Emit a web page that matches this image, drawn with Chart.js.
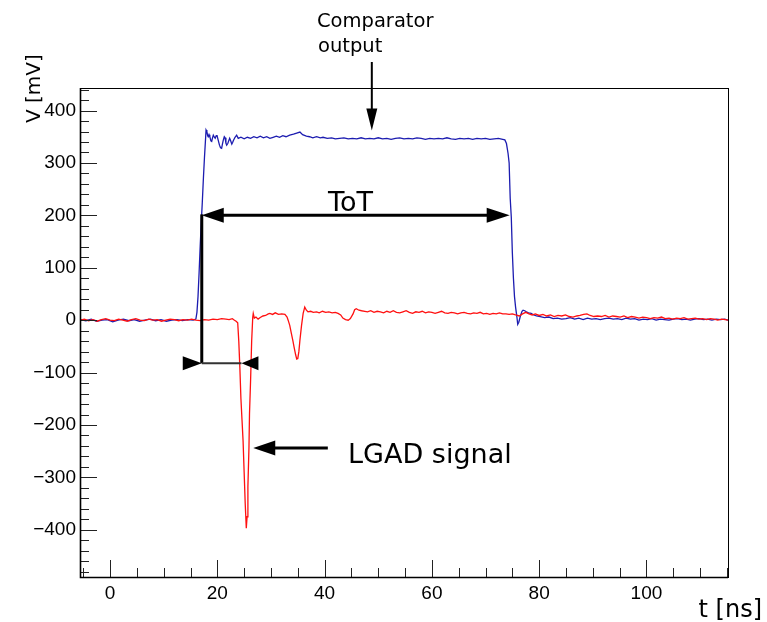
<!DOCTYPE html>
<html><head><meta charset="utf-8">
<script src="https://cdn.jsdelivr.net/npm/chart.js@4"></script>
<style>html,body{margin:0;padding:0;background:#fff}#wrap{width:767px;height:622px;position:relative}</style>
</head><body><div id="wrap"><canvas id="c" width="767" height="622"></canvas></div>
<script>
// tick labels
const xTicks = [0, 20, 40, 60, 80, 100];
const yTicks = [-400, -300, -200, -100, 0, 100, 200, 300, 400];

// Comparator output (blue), time [ns] and voltage [mV]
const blueT = [-5.5,-4.5,-3.5,-2.5,-1.5,-0.5,0.5,1.5,2.5,3.5,4.5,5.5,6.5,7.5,8.5,9.5,10.5,11.5,12.5,13.5,14.5,15.5,16.0,
16.2,16.4,16.6,16.8,17.0,17.2,17.4,17.6,17.8,17.9,
18.05,18.2,18.3,18.45,18.6,18.8,18.95,19.1,19.25,19.45,19.6,19.8,19.95,20.15,20.4,20.6,20.8,20.95,21.1,21.3,21.45,21.6,21.75,21.95,22.15,22.3,22.5,22.7,22.85,23.0,23.3,23.6,23.9,24.4,25.0,25.6,26.2,26.8,27.4,28.0,28.6,29.2,29.8,30.4,31.0,31.6,32.2,32.8,33.5,34.2,34.8,35.4,35.9,36.6,37.2,37.8,38.5,39.2,39.7,40.5,41.3,42.0,42.8,43.6,44.4,45.2,46.0,46.8,47.6,48.4,49.2,50.0,50.8,51.6,52.4,53.2,54.0,54.8,55.6,56.4,57.2,58.0,58.8,59.6,60.4,61.2,62.0,62.8,63.6,64.4,65.2,66.0,66.8,67.6,68.4,69.2,70.0,70.8,71.6,72.4,73.2,73.6,
73.9,74.2,74.4,74.6,74.8,75.0,75.2,75.4,75.6,75.85,76.0,76.2,76.5,76.8,77.0,77.3,77.6,78.0,78.5,79.0,79.5,80.2,81.0,81.8,82.6,83.4,84.2,85.0,85.8,86.6,87.4,88.2,89.0,89.8,90.6,91.4,92.2,93.0,93.8,94.6,95.4,96.2,97.0,97.8,98.6,99.4,100.2,101.0,101.8,102.6,103.4,104.2,105.0,105.8,106.6,107.4,108.2,109.0,109.8,110.6,111.4,112.2,113.0,113.8,114.6,115.2];
const blueV = [1,-1,2,-2,0,1,-3,0,2,-1,1,-2,0,2,-1,1,-2,0,1,-1,1,0,2,
15,45,90,140,185,225,270,310,345,363,
360,352,350,354,350,342,341,348,353,349,347,352,352,344,334,329,328,336,343,350,348,338,334,337,343,347,342,336,339,343,349,353,347,349,346,349,347,350,348,351,348,350,347,349,351,349,352,350,353,355,357,359,354,351,350,348,350,348,349,347,348,346,347,348,346,347,346,348,346,347,346,348,346,347,345,347,348,346,347,346,348,347,345,347,346,347,346,348,346,345,347,346,347,345,347,346,347,345,346,347,345,344,
337,318,300,232,197,128,80,45,25,6,-8,-4,8,17,19,18,16,14,13,10,8,7,5,6,3,4,2,3,5,2,4,1,4,2,3,1,3,4,2,3,1,4,2,3,0,2,1,3,0,2,1,0,2,3,1,2,0,2,3,1,2,0,2,1,2,0,1];

// LGAD signal (red), time [ns] and voltage [mV]
const redT = [-5.5,-4.8,-4.0,-3.2,-2.4,-1.6,-0.8,0.0,0.8,1.6,2.4,3.2,4.0,4.8,5.6,6.4,7.2,8.0,8.8,9.6,10.4,11.2,12.0,12.8,13.6,14.4,15.2,16.0,16.8,17.6,18.4,19.2,20.0,20.8,21.6,22.2,22.8,23.2,23.5,23.8,
24.0,24.2,24.4,24.6,24.8,25.0,25.2,25.4,25.55,25.7,25.9,26.0,26.2,26.4,26.6,26.7,26.9,27.2,27.6,28.0,28.5,29.0,29.5,29.8,30.3,30.8,31.4,32.0,32.6,33.0,33.2,33.5,33.8,34.1,34.3,34.6,34.8,35.0,35.2,35.4,35.7,36.0,36.3,36.6,36.9,37.4,37.9,38.5,39.0,39.6,40.2,40.8,41.4,42.0,42.5,43.0,43.4,43.9,44.4,44.8,45.3,45.6,45.9,46.4,46.9,47.5,48.0,48.6,49.2,49.8,50.4,51.0,51.6,52.2,52.8,53.4,54.0,54.6,55.2,55.8,56.4,57.0,57.6,58.2,58.8,59.4,60.0,60.6,61.2,61.8,62.4,63.0,63.6,64.2,64.8,65.4,66.0,66.6,67.2,67.8,68.4,69.0,69.6,70.2,70.8,71.4,72.0,72.6,73.2,73.8,74.4,75.0,75.6,76.3,76.9,77.5,78.1,78.7,79.3,80.0,80.7,81.4,82.1,82.8,83.5,84.2,84.9,85.6,86.3,87.0,87.6,88.3,88.9,89.5,90.2,90.9,91.6,92.3,93.0,93.7,94.4,95.1,95.8,96.5,97.2,97.9,98.6,99.3,100.0,100.7,101.4,102.1,102.8,103.5,104.2,104.9,105.6,106.3,107.0,107.7,108.4,109.1,109.8,110.5,111.2,111.9,112.6,113.3,114.0,114.7,115.2];
const redV = [0,2,-1,1,-2,1,3,0,-1,2,0,-2,1,3,0,-1,2,0,1,-2,0,2,1,-1,1,0,2,0,-1,1,0,2,1,3,2,1,3,0,-2,-5,
-40,-90,-150,-190,-230,-290,-350,-397,-375,-318,-242,-178,-115,-40,5,13,4,6,2,5,8,9,12,13,11,14,11,12,11,6,0,-10,-25,-40,-51,-66,-74,-73,-60,-38,-10,13,25,19,16,17,15,16,14,17,15,16,14,15,13,10,4,1,0,3,12,20,22,19,18,17,16,18,15,17,16,14,17,15,18,15,14,16,18,15,13,16,15,17,14,16,15,13,15,17,14,13,15,14,12,14,15,13,12,14,13,15,12,13,11,13,12,14,12,12,11,12,10,8,12,15,12,10,12,9,11,8,10,7,9,8,10,7,6,8,9,11,12,9,7,8,7,9,6,8,7,6,8,5,7,6,4,6,5,3,5,4,6,3,4,2,4,3,5,2,3,4,2,3,1,3,2,0,2,1,0];

const X_MIN = -5.6, X_MAX = 115.2, Y_MIN = -490, Y_MAX = 443;

const toXY = (T, V) => T.map((t, i) => ({x: t, y: V[i]}));

function arrowHead(ctx, tx, ty, dx, dy, len, half) {
  const bx = tx - dx * len, by = ty - dy * len;
  const px = -dy, py = dx;
  ctx.beginPath();
  ctx.moveTo(tx, ty);
  ctx.lineTo(bx + px * half, by + py * half);
  ctx.lineTo(bx - px * half, by - py * half);
  ctx.closePath();
  ctx.fill();
}

const rootPlugin = {
  id: 'rootStyle',
  beforeDraw(chart) {
    const ctx = chart.ctx;
    ctx.save();
    ctx.fillStyle = '#fff';
    ctx.fillRect(0, 0, chart.width, chart.height);
    ctx.restore();
  },
  afterDatasetsDraw(chart) {
    const ctx = chart.ctx, xs = chart.scales.x, ys = chart.scales.y, a = chart.chartArea;
    ctx.save();
    ctx.strokeStyle = '#222';
    ctx.lineWidth = 1;
    ctx.beginPath();
    for (let v = -480; v <= 440; v += 20) {
      const y = Math.round(ys.getPixelForValue(v)) + 0.5;
      const L = (v % 100 === 0) ? 17 : 9;
      ctx.moveTo(a.left, y); ctx.lineTo(a.left + L, y);
    }
    for (let t = -5; t <= 115; t += 5) {
      const x = Math.round(xs.getPixelForValue(t)) + 0.5;
      const L = (t % 20 === 0) ? 17 : 9;
      ctx.moveTo(x, a.bottom); ctx.lineTo(x, a.bottom - L);
    }
    ctx.stroke();
    ctx.strokeStyle = '#000';
    ctx.lineWidth = 1;
    ctx.strokeRect(Math.round(a.left) + 0.5, Math.round(a.top) + 0.5, Math.round(a.right - a.left), Math.round(a.bottom - a.top));
    ctx.lineWidth = 1.6;
    ctx.beginPath();
    ctx.moveTo(a.left + 0.5, a.top); ctx.lineTo(a.left + 0.5, a.bottom + 0.5); ctx.lineTo(a.right, a.bottom + 0.5);
    ctx.stroke();

    ctx.fillStyle = '#000';
    ctx.strokeStyle = '#000';
    const X = v => xs.getPixelForValue(v), Y = v => ys.getPixelForValue(v);
    ctx.lineWidth = 2;
    ctx.beginPath(); ctx.moveTo(X(48.8), 62); ctx.lineTo(X(48.8), Y(362) - 18); ctx.stroke();
    arrowHead(ctx, X(48.8), Y(362), 0, 1, 22, 5.5);
    ctx.lineWidth = 3;
    ctx.beginPath(); ctx.moveTo(X(17.1) + 10, Y(200)); ctx.lineTo(X(74.5) - 10, Y(200)); ctx.stroke();
    arrowHead(ctx, X(17.1), Y(200), -1, 0, 22, 7.5);
    arrowHead(ctx, X(74.5), Y(200), 1, 0, 23, 7.5);
    ctx.beginPath(); ctx.moveTo(X(17.1), Y(200) - 1); ctx.lineTo(X(17.1), Y(-82)); ctx.stroke();
    ctx.lineWidth = 2;
    ctx.strokeStyle = '#333';
    ctx.beginPath(); ctx.moveTo(X(17.1), Y(-82)); ctx.lineTo(X(24.5), Y(-82)); ctx.stroke();
    arrowHead(ctx, X(17.1), Y(-82), 1, 0, 19, 7);
    arrowHead(ctx, X(24.5), Y(-82), -1, 0, 17, 7);
    ctx.strokeStyle = '#000';
    ctx.lineWidth = 3;
    ctx.beginPath(); ctx.moveTo(X(40.6), Y(-244)); ctx.lineTo(X(26.7) + 15, Y(-244)); ctx.stroke();
    arrowHead(ctx, X(26.7), Y(-244), -1, 0, 22, 7.5);

    ctx.textBaseline = 'alphabetic';
    ctx.textAlign = 'left';
    ctx.font = '19.5px "DejaVu Sans"';
    ctx.fillText('Comparator', 317, 27);
    ctx.fillText('output', 318, 52);
    ctx.font = '27px "DejaVu Sans"';
    ctx.fillText('ToT', 328, 211);
    ctx.font = '27px "DejaVu Sans"';
    ctx.fillText('LGAD signal', 348, 463);
    ctx.font = '24px "DejaVu Sans"';
    ctx.textAlign = 'right';
    ctx.fillText('t [ns]', 762, 617);
    ctx.save();
    ctx.translate(40, 123);
    ctx.rotate(-Math.PI / 2);
    ctx.textAlign = 'left';
    ctx.font = '20px "DejaVu Sans"';
    ctx.fillText('V [mV]', 0, 0);
    ctx.restore();
    ctx.restore();
  }
};

new Chart(document.getElementById('c'), {
  type: 'line',
  data: {
    datasets: [
      { label: 'LGAD signal', data: toXY(redT, redV), borderColor: '#ff1010', borderWidth: 1.3, pointRadius: 0, tension: 0, fill: false },
      { label: 'Comparator output', data: toXY(blueT, blueV), borderColor: '#1c1cb0', borderWidth: 1.3, pointRadius: 0, tension: 0, fill: false }
    ]
  },
  options: {
    responsive: false,
    animation: false,
    devicePixelRatio: 1,
    layout: { padding: { left: 0, top: 88, right: 39, bottom: 0 } },
    plugins: { legend: { display: false }, tooltip: { enabled: false } },
    scales: {
      x: {
        type: 'linear', min: X_MIN, max: X_MAX,
        grid: { display: false, drawTicks: false }, border: { display: false },
        afterBuildTicks: s => { s.ticks = xTicks.map(v => ({ value: v })); },
        afterFit: s => { s.height = 45; },
        ticks: { padding: 5, color: '#000', font: { family: 'Liberation Sans', size: 19 }, maxRotation: 0,
          callback: v => (v < 0 ? '\u2212' + Math.abs(v) : '' + v) }
      },
      y: {
        type: 'linear', min: Y_MIN, max: Y_MAX,
        grid: { display: false, drawTicks: false }, border: { display: false },
        afterBuildTicks: s => { s.ticks = yTicks.map(v => ({ value: v })); },
        afterFit: s => { s.width = 80; },
        ticks: { padding: 4, color: '#000', font: { family: 'Liberation Sans', size: 19 },
          callback: v => (v < 0 ? '\u2212' + Math.abs(v) : '' + v) }
      }
    }
  },
  plugins: [rootPlugin]
});
</script>
</body></html>
